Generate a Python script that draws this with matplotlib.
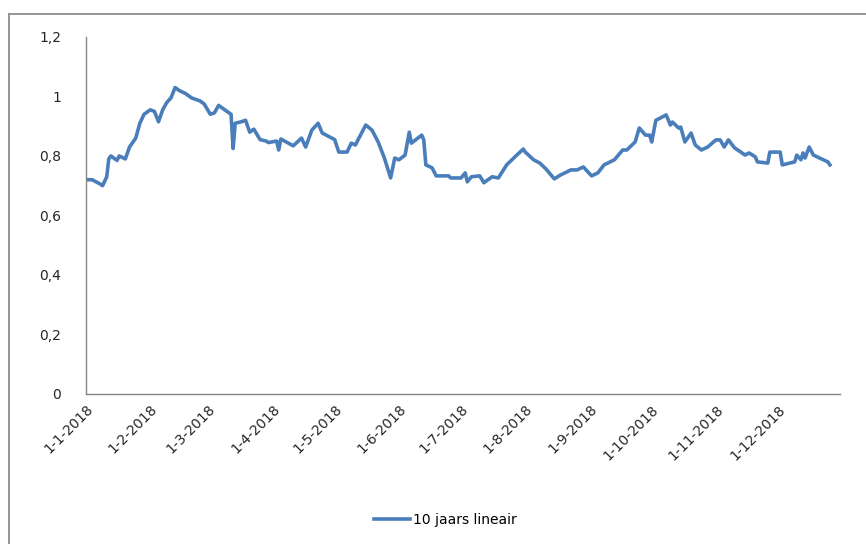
import matplotlib
matplotlib.use("Agg")
import matplotlib.pyplot as plt
import matplotlib.ticker as mticker
from matplotlib.lines import Line2D
import pandas as pd

# day offsets from 1-1-2018 and values
day_offsets = [0, 3, 7, 8, 10, 11, 12, 15, 16, 19, 21, 24, 26, 28, 31, 33, 35, 37, 39, 41,
               43, 45, 48, 51, 55, 57, 60, 62, 64, 67, 70, 71, 72, 75, 77, 79, 81, 84, 87, 88,
               92, 93, 94, 100, 104, 106, 109, 112, 114, 120, 122, 126, 128, 130, 135, 138,
               141, 144, 147, 149, 151, 154, 156, 157, 162, 163, 164, 167, 169, 175, 176,
               181, 183, 184, 186, 190, 192, 196, 199, 203, 207, 211, 212, 216, 219, 222,
               226, 229, 234, 237, 240, 244, 247, 250, 255, 259, 261, 265, 267, 270, 272,
               273, 275, 277, 280, 282, 283, 286, 287, 289, 292, 294, 297, 300, 304, 306,
               308, 310, 313, 316, 318, 320, 323, 324, 329, 330, 335, 336, 342, 343, 345,
               346, 347, 349, 351, 354, 358, 359]
values = [0.72, 0.72, 0.705, 0.70, 0.73, 0.79, 0.80, 0.785, 0.80, 0.79, 0.83, 0.86, 0.91, 0.94,
          0.955, 0.95, 0.915, 0.955, 0.98, 0.995, 1.03, 1.02, 1.01, 0.995, 0.985, 0.975, 0.94,
          0.945, 0.97, 0.955, 0.94, 0.825, 0.91, 0.915, 0.92, 0.88, 0.89, 0.855, 0.85, 0.845,
          0.85, 0.82, 0.857, 0.834, 0.86, 0.83, 0.887, 0.91, 0.877, 0.855, 0.813, 0.813, 0.843,
          0.837, 0.904, 0.887, 0.847, 0.793, 0.726, 0.793, 0.787, 0.803, 0.88, 0.843, 0.87,
          0.854, 0.77, 0.76, 0.733, 0.733, 0.726,
          0.726, 0.743, 0.713, 0.73, 0.733, 0.71, 0.73, 0.726, 0.77, 0.797, 0.823, 0.813, 0.787,
          0.776, 0.756, 0.723, 0.736, 0.753, 0.753, 0.763, 0.733, 0.743, 0.77, 0.787, 0.82,
          0.82, 0.847, 0.894, 0.87, 0.87, 0.847, 0.92, 0.927, 0.938, 0.904, 0.914, 0.894,
          0.897, 0.847, 0.877, 0.837, 0.82, 0.83, 0.854, 0.854, 0.83, 0.854, 0.827, 0.813,
          0.803, 0.81, 0.797, 0.78, 0.776, 0.813, 0.813, 0.77, 0.78, 0.803, 0.787, 0.81, 0.793,
          0.83, 0.803, 0.793, 0.78, 0.77]
series_name = "10 jaars lineair"
month_ticks = ["2018-%02d-01" % m for m in range(1, 13)]

start = pd.Timestamp("2018-01-01")
dates = start + pd.to_timedelta(day_offsets, unit="D")

fig = plt.figure(figsize=(8.66, 5.44), dpi=100)
ax = fig.add_axes([0.0993, 0.276, 0.871, 0.656])

line, = ax.plot(dates, values, color="#4a7ebb", linewidth=2.6, solid_joinstyle="round",
                label=series_name)

ax.set_ylim(0, 1.2)
ax.set_xlim(start, pd.Timestamp("2018-12-31"))
ax.yaxis.set_major_locator(mticker.MultipleLocator(0.2))
ax.yaxis.set_major_formatter(mticker.FuncFormatter(
    lambda v, p: ("%g" % round(v, 1)).replace(".", ",")))
ticks = pd.to_datetime(month_ticks)
ax.set_xticks(ticks)
ax.set_xticklabels([f"{t.day}-{t.month}-{t.year}" for t in ticks], rotation=45,
                   ha="right", rotation_mode="anchor")

for s in ["top", "right"]:
    ax.spines[s].set_visible(False)
for s in ["left", "bottom"]:
    ax.spines[s].set_color("#868686")
    ax.spines[s].set_linewidth(1.0)
ax.tick_params(axis="both", length=0, labelsize=10)
ax.tick_params(axis="y", pad=18)
ax.tick_params(axis="x", pad=6)
for lab in ax.get_xticklabels() + ax.get_yticklabels():
    lab.set_fontfamily("DejaVu Sans")
    lab.set_color("#262626")

fig.legend(handles=[line], loc="center", bbox_to_anchor=(0.514, 0.044),
           frameon=False, fontsize=10, handlelength=2.6, handletextpad=0.2)

bx = 8.5 / 866
by = 1 - 13.5 / 544
fig.add_artist(Line2D([bx, 1.0], [by, by], transform=fig.transFigure,
                      color="#8c8c8c", linewidth=1.3))
fig.add_artist(Line2D([bx, bx], [0.0, by], transform=fig.transFigure,
                      color="#8c8c8c", linewidth=1.3))

fig.savefig("out.png", dpi=100)
